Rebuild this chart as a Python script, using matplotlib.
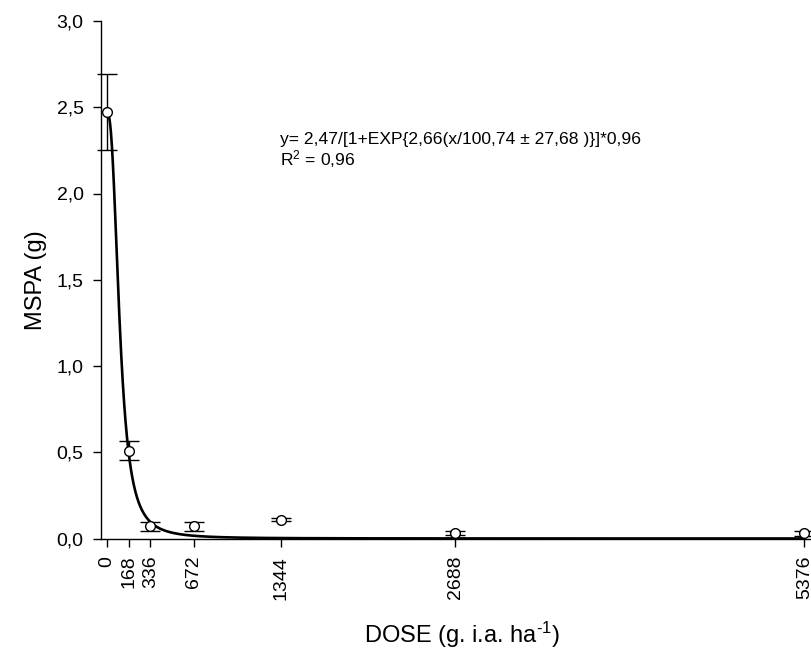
import numpy as np
import matplotlib.pyplot as plt

plt.rcParams['font.family'] = ['Liberation Sans', 'DejaVu Sans']
plt.rcParams['mathtext.fontset'] = 'custom'
plt.rcParams['mathtext.rm'] = 'Liberation Sans'
plt.rcParams['mathtext.it'] = 'Liberation Sans:italic'
plt.rcParams['mathtext.bf'] = 'Liberation Sans:bold'

# doses (g i.a./ha) and shoot dry mass
dose = np.array([0, 168, 336, 672, 1344, 2688, 5376], dtype=np.float64)
mspa = np.array([2.47, 0.51, 0.07, 0.07, 0.11, 0.03, 0.03])
erro = np.array([0.22, 0.055, 0.025, 0.027, 0.01, 0.012, 0.015])
tick_labels = ['0', '168', '336', '672', '1344', '2688', '5376']

# log-logistic fit parameters
a, b, c = 2.47, 100.74, 2.66


def log_logistic(x):
    return a / (1 + (x / b) ** c)


def main():
    fig = plt.figure(figsize=(8.11, 6.5), dpi=100)
    ax = fig.add_axes([101 / 811, (650 - 538.5) / 650, 709 / 811, 517.5 / 650])

    xs = np.linspace(0, 5376, 4000)
    ax.plot(xs, log_logistic(xs), color='black', lw=1.9, zorder=2)

    ax.errorbar(dose, mspa, yerr=erro, fmt='o', mfc='white', mec='black',
                ms=7, mew=1.0, ecolor='black', elinewidth=1.0, capsize=7,
                capthick=1.0, color='black', zorder=3, clip_on=False)

    ax.set_xlim(-44, 5420)
    ax.set_ylim(0, 3.0)
    ax.set_xticks(dose)
    ax.set_xticklabels(tick_labels, rotation=90, fontsize=14)
    ax.set_yticks(np.arange(0, 3.01, 0.5))
    ax.set_yticklabels(['{:.1f}'.format(v).replace('.', ',')
                        for v in np.arange(0, 3.01, 0.5)], fontsize=14)
    ax.tick_params(direction='out', length=5.5, width=1.0, pad=7)

    for side in ['top', 'right']:
        ax.spines[side].set_visible(False)
    for side in ['left', 'bottom']:
        ax.spines[side].set_linewidth(1.0)

    ax.set_xlabel(r'DOSE (g. i.a. ha$^{\text{-1}}$)', fontsize=17)
    ax.xaxis.set_label_coords(0.509, -0.158)
    ax.set_ylabel('MSPA (g)', fontsize=17, labelpad=7)

    ax.text(1336, 2.285, 'y= 2,47/[1+EXP{2,66(x/100,74 \u00b1 27,68 )}]*0,96',
            fontsize=12.6, va='baseline', ha='left')
    ax.text(1336, 2.16, 'R$^2$ = 0,96', fontsize=12.6, va='baseline', ha='left')

    fig.savefig('out.png', dpi=100)


if __name__ == '__main__':
    main()
